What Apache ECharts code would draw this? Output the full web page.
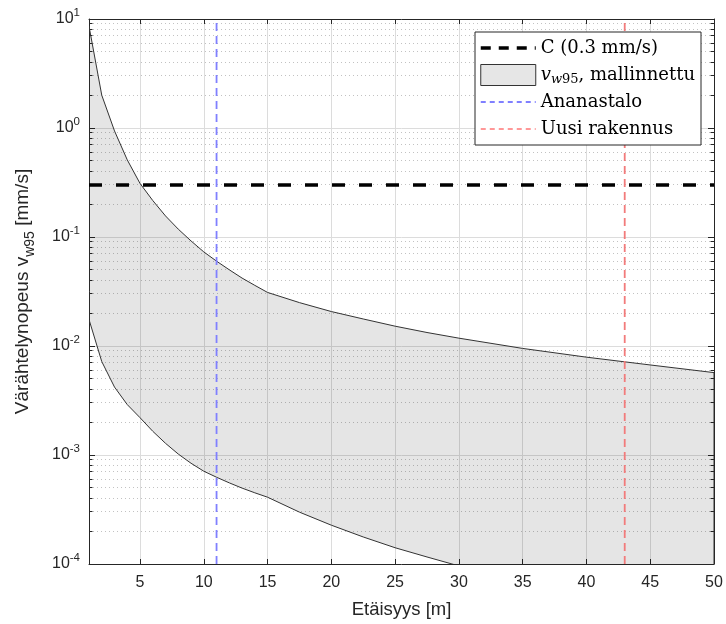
<!DOCTYPE html>
<html><head><meta charset="utf-8">
<script src="https://cdn.jsdelivr.net/npm/echarts@6/dist/echarts.min.js"></script>
<style>html,body{margin:0;padding:0;background:#fff}#c{width:726px;height:624px}</style>
</head><body><div id="c"></div>
<script>
// ---- data ----
const distances   = [1,2,3,4,5,6,7,8,9,10,11,12,13,14,15,17.5,20,22.5,25,27.5,30,35,40,45,50];
const upperValues = [8.6,2.0,0.94,0.51,0.31,0.216,0.156,0.118,0.092,0.073,0.060,0.050,0.042,0.036,0.031,0.025,0.0207,0.0177,0.0152,0.0133,0.0118,0.0095,0.0079,0.0067,0.0057];
const lowerValues = [0.0175,0.0072,0.0042,0.0029,0.0022,0.00165,0.00128,0.00102,0.00084,0.00071,0.000625,0.000555,0.000497,0.000450,0.00041,0.000299,0.000227,0.000177,0.000141,0.000116,0.000096,0.000070,0.000053,0.000042,0.000034];
const cLevel = 0.3;
const buildingNames = ['Ananastalo', 'Uusi rakennus'];
const buildingX = [11, 43];
const xRange = [1, 50];
const yRange = [1e-4, 10];
const xTickValues = [5,10,15,20,25,30,35,40,45,50];
const minorMultipliers = [2,3,4,5,6,7,8,9];
const decades = [-4,-3,-2,-1,0];

const minorValues = [];
decades.forEach(d => minorMultipliers.forEach(m => minorValues.push(m * Math.pow(10, d))));

const axisColor = '#262626';
const chart = echarts.init(document.getElementById('c'), null, {renderer: 'canvas'});

function snap(v){ return Math.round(v - 0.5) + 0.5; }

const xAxisBase = {
  type: 'value', min: xRange[0], max: xRange[1],
  axisLine: {show: true, onZero: false, lineStyle: {color: axisColor, width: 1}},
  axisTick: {show: true, inside: true, length: 5, customValues: xTickValues, lineStyle: {color: axisColor}},
  axisLabel: {show: true, customValues: xTickValues, color: axisColor, fontFamily: 'Liberation Sans', fontSize: 16, margin: 11},
  splitLine: {show: true, lineStyle: {color: '#dcdcdc', width: 1}}
};
const yAxisBase = {
  type: 'log', logBase: 10, min: yRange[0], max: yRange[1],
  axisLine: {show: true, onZero: false, lineStyle: {color: axisColor, width: 1}},
  axisTick: {show: true, inside: true, length: 6, lineStyle: {color: axisColor}},
  minorTick: {show: false},
  axisLabel: {
    show: true, margin: 9, color: axisColor,
    formatter: function(v){ const e = Math.round(Math.log10(v)); return '{b|10}{e|' + e + '}'; },
    rich: {
      b: {fontFamily: 'Liberation Sans', fontSize: 16, color: axisColor, lineHeight: 24},
      e: {fontFamily: 'Liberation Sans', fontSize: 11.5, color: axisColor, lineHeight: 11, verticalAlign: 'top'}
    }
  },
  splitLine: {show: true, lineStyle: {color: '#dcdcdc', width: 1}}
};

const hidden = {opacity: 0, color: 'rgba(0,0,0,0)', borderWidth: 0};

const option = {
  animation: false,
  backgroundColor: '#fff',
  grid: {left: 89, right: 12, top: 19, bottom: 57, containLabel: false},
  xAxis: [
    Object.assign({}, xAxisBase, {
      position: 'bottom',
      name: 'Etäisyys [m]', nameLocation: 'middle', nameGap: 36,
      nameTextStyle: {fontFamily: 'Liberation Sans', fontSize: 18.5, color: axisColor}
    }),
    Object.assign({}, xAxisBase, {
      position: 'top', axisLabel: {show: false, customValues: xTickValues}, splitLine: {show: false}
    })
  ],
  yAxis: [
    Object.assign({}, yAxisBase, {
      position: 'left',
      name: '{a|Värähtelynopeus v}{s|w95}{a| [mm/s]}', nameLocation: 'middle', nameGap: 52,
      nameTextStyle: {
        rich: {
          a: {fontFamily: 'Liberation Sans', fontSize: 19, color: axisColor, lineHeight: 28},
          s: {fontFamily: 'Liberation Sans', fontSize: 14, color: axisColor, lineHeight: 14, verticalAlign: 'bottom'}
        }
      }
    }),
    Object.assign({}, yAxisBase, {
      position: 'right', axisLabel: {show: false}, splitLine: {show: false}
    })
  ],
  legend: {
    orient: 'vertical', right: 25, top: 32,
    padding: [5, 6, 5, 4], itemGap: 5, itemWidth: 55, itemHeight: 21,
    backgroundColor: '#fff', borderColor: axisColor, borderWidth: 1, borderRadius: 0,
    textStyle: {
      fontFamily: 'DejaVu Serif', fontSize: 18, color: '#000', lineHeight: 22,
      rich: {
        v: {fontFamily: 'DejaVu Serif', fontStyle: 'italic', fontSize: 18, color: '#000', lineHeight: 22},
        w: {fontFamily: 'DejaVu Serif', fontStyle: 'italic', fontSize: 13, color: '#000', lineHeight: 14, verticalAlign: 'bottom'},
        s: {fontFamily: 'DejaVu Serif', fontSize: 13, color: '#000', lineHeight: 14, verticalAlign: 'bottom'},
        t: {fontFamily: 'DejaVu Serif', fontSize: 18, color: '#000', lineHeight: 22}
      }
    },
    formatter: function(name){
      if (name === 'band') return '{v|v}{w|w}{s|95}{t|, mallinnettu}';
      return name;
    },
    data: [
      {name: 'C (0.3 mm/s)', itemStyle: hidden, lineStyle: {color: '#000', width: 3.5, type: [10, 8]}},
      {name: 'band', icon: 'rect', itemStyle: {color: '#e6e6e6', borderColor: '#333', borderWidth: 1}},
      {name: buildingNames[0], itemStyle: hidden, lineStyle: {color: '#0000ff', width: 1, type: [5, 4]}},
      {name: buildingNames[1], itemStyle: hidden, lineStyle: {color: '#ff3030', width: 1, type: [5, 4]}}
    ]
  },
  series: [
    {
      name: 'minorgrid', type: 'custom', z: 1, silent: true,
      xAxisIndex: 0, yAxisIndex: 0,
      data: minorValues.map(v => [xRange[0], v]),
      renderItem: function(params, api){
        const p = api.coord([api.value(0), api.value(1)]);
        const cs = params.coordSys;
        const y = snap(p[1]);
        return {type: 'group', children: [
          {type: 'line', shape: {x1: cs.x, y1: y, x2: cs.x + cs.width, y2: y}, style: {stroke: '#c2c2c2', lineWidth: 1, lineDash: [1, 3]}},
          {type: 'line', shape: {x1: cs.x, y1: y, x2: cs.x + 3.5, y2: y}, style: {stroke: axisColor, lineWidth: 1}},
          {type: 'line', shape: {x1: cs.x + cs.width - 3.5, y1: y, x2: cs.x + cs.width, y2: y}, style: {stroke: axisColor, lineWidth: 1}}
        ]};
      }
    },
    {
      name: 'band', type: 'custom', z: 2, silent: true,
      xAxisIndex: 0, yAxisIndex: 0,
      itemStyle: {color: '#e6e6e6'},
      data: [[distances[0], upperValues[0]]],
      renderItem: function(params, api){
        if (params.dataIndex !== 0) return;
        const pts = [];
        for (let i = 0; i < distances.length; i++) pts.push(api.coord([distances[i], upperValues[i]]));
        for (let i = distances.length - 1; i >= 0; i--) pts.push(api.coord([distances[i], lowerValues[i]]));
        const cs = params.coordSys;
        return {
          type: 'polygon', shape: {points: pts},
          style: {fill: 'rgba(0,0,0,0.1)', stroke: '#333', lineWidth: 1},
          clipPath: {type: 'rect', shape: {x: cs.x, y: cs.y, width: cs.width, height: cs.height}}
        };
      }
    },
    {
      name: 'C (0.3 mm/s)', type: 'line', z: 4, symbol: 'none', silent: true,
      data: [[xRange[0], cLevel], [xRange[1], cLevel]],
      lineStyle: {color: '#000', width: 3.5, type: [13, 14]}, itemStyle: {color: '#000'}
    },
    {
      name: buildingNames[0], type: 'line', z: 3, symbol: 'none', silent: true,
      data: [[buildingX[0], yRange[0]], [buildingX[0], yRange[1]]],
      lineStyle: {color: '#8080ff', width: 1.8, type: [8, 5]}, itemStyle: {color: '#8080ff'}
    },
    {
      name: buildingNames[1], type: 'line', z: 3, symbol: 'none', silent: true,
      data: [[buildingX[1], yRange[0]], [buildingX[1], yRange[1]]],
      lineStyle: {color: '#f27b7b', width: 1.8, type: [8, 5]}, itemStyle: {color: '#f27b7b'}
    }
  ]
};
chart.setOption(option);
</script>
</body></html>
